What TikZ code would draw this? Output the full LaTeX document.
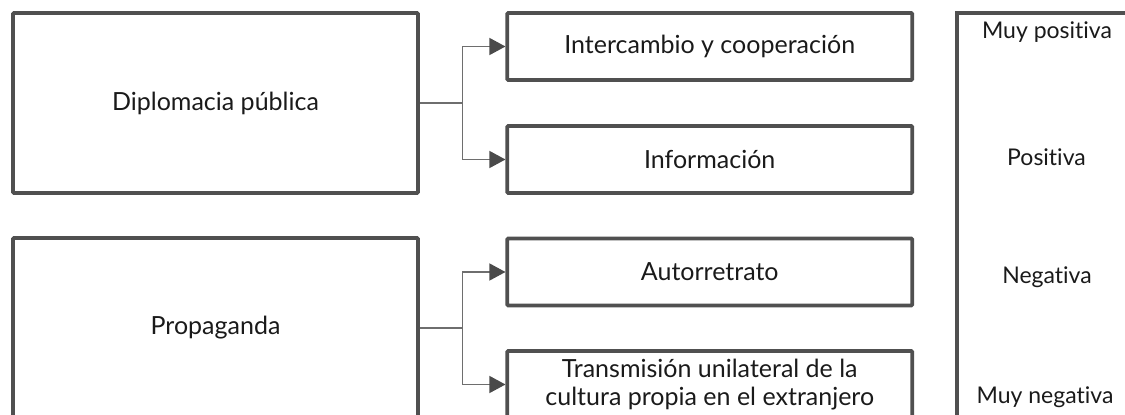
\documentclass[tikz,border=0pt]{standalone}
\usepackage{fontspec}
\setmainfont{Lato}[RawFeature={-liga}]
\usetikzlibrary{arrows.meta}
\definecolor{boxline}{HTML}{505050}
\definecolor{linkline}{HTML}{6E6E6E}
\definecolor{tipfill}{HTML}{4A4A4A}
\definecolor{txt}{HTML}{1A1A1A}
\tikzset{
  box/.style={draw=boxline, line width=3.6pt, rounded corners=1pt,
    minimum width=405pt, inner sep=0pt, align=center, text=txt,
    font=\fontsize{25}{28}\selectfont},
  bigbox/.style={box, minimum height=180pt},
  smallbox/.style={box, minimum height=67pt},
  link/.style={draw=linkline, line width=1.3pt},
  linkarrow/.style={link, -{Triangle[length=16pt,width=17pt,fill=tipfill,color=tipfill]}},
  scalelabel/.style={text=txt, font=\fontsize{23}{28}\selectfont, inner sep=0pt}
}
\begin{document}
\begin{tikzpicture}[x=1pt,y=-1pt]
  \useasboundingbox (0,0) rectangle (1125,415);
  \clip (0,0) rectangle (1125,415);

  % Upper group
  \node[bigbox]   (dip)  at (215.5,103)  {Diplomacia pública};
  \node[smallbox] (inter) at (709.75,46.5) {Intercambio y cooperación};
  \node[smallbox] (info)  at (709.75,159.5) {Información};

  % Lower group
  \node[bigbox]   (prop) at (215.5,328)  {Propaganda};
  \node[smallbox] (auto) at (709.75,272) {Autorretrato};
  \node[smallbox] (trans) at (709.75,384.5) {Transmisión unilateral de la\\cultura propia en el extranjero};

  % Branching connectors
  \coordinate (j1) at (462.5,103);
  \coordinate (j2) at (462.5,328);
  \draw[link] (dip.east) -- (j1);
  \draw[linkarrow] (j1) |- (inter.west);
  \draw[linkarrow] (j1) |- (info.west);
  \draw[link] (prop.east) -- (j2);
  \draw[linkarrow] (j2) |- (auto.west);
  \draw[linkarrow] (j2) |- (trans.west);

  % Evaluation scale
  \coordinate (sb) at (957,440);
  \coordinate (st) at (957,13);
  \coordinate (se) at (1140,13);
  \draw[draw=boxline, line width=3.4pt] (sb) -- (st) -- (se);
  \node[scalelabel, anchor=base] (mp) at (1047,38)  {Muy positiva};
  \node[scalelabel]              (p)  at (1046.5,157) {Positiva};
  \node[scalelabel]              (n)  at (1047,277) {Negativa};
  \node[scalelabel, anchor=base] (mn) at (1045,403) {Muy negativa};
\end{tikzpicture}
\end{document}
